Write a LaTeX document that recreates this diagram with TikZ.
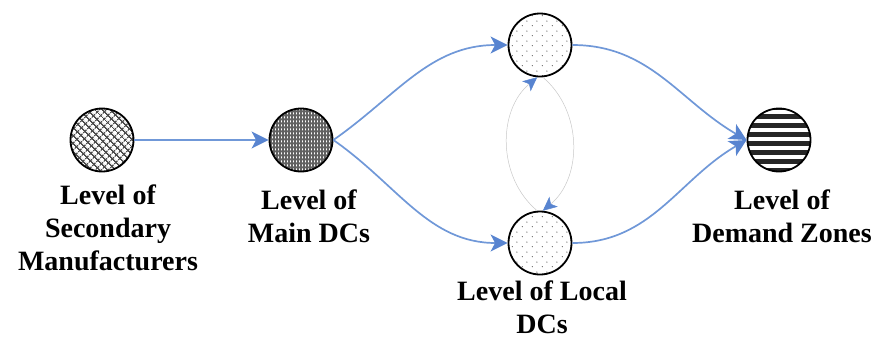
\documentclass[tikz,border=0pt]{standalone}
\usepackage{fontspec}
\setmainfont{Liberation Serif}
\usetikzlibrary{arrows.meta,patterns,patterns.meta}
\definecolor{edgeblue}{RGB}{112,152,216}
\definecolor{tipblue}{RGB}{88,132,208}
\definecolor{arcgrey}{RGB}{200,200,200}
\tikzdeclarepattern{name=diamesh, type=uncolored,
  bounding box={(0pt,0pt) and (5pt,5pt)}, tile size={(5pt,5pt)},
  tile transformation={rotate=45},
  code={\draw[line width=1.4pt] (-0.5pt,2.5pt) -- (5.5pt,2.5pt) (2.5pt,-0.5pt) -- (2.5pt,5.5pt);}}
\tikzdeclarepattern{name=vdashes, type=uncolored,
  bounding box={(0pt,0pt) and (3.4pt,4pt)}, tile size={(3.4pt,4pt)},
  code={\fill (1.2pt,0.8pt) rectangle (2.2pt,3.2pt);}}
\tikzdeclarepattern{name=sparsedots, type=uncolored,
  bounding box={(0pt,0pt) and (10pt,10pt)}, tile size={(10pt,10pt)},
  code={\fill (2.5pt,2.5pt) circle (0.65pt); \fill (7.5pt,7.5pt) circle (0.65pt);}}
\begin{document}
\begin{tikzpicture}[x=1pt,y=-1pt,
  level/.style={circle, draw=black, line width=1.8pt, minimum size=63pt, inner sep=0pt},
  stripes/.style={path picture={
     \foreach \k in {-4,...,3}{
       \fill[black!85] ([yshift=-\k*9pt-1pt]path picture bounding box.west) ++(-2pt,0) rectangle ++(70pt,-4.6pt);}}},
  lbl/.style={font=\fontsize{28}{33}\selectfont\bfseries, align=center, anchor=base, inner sep=0pt},
  flow/.style={draw=edgeblue, line width=1.7pt, -{Stealth[length=17pt,width=17pt,inset=4.5pt,color=tipblue]}},
  thinarc/.style={draw=arcgrey, line width=0.5pt, -{Stealth[length=14pt,width=13pt,inset=3.5pt,color=tipblue]}}]
\useasboundingbox (0,0) rectangle (876,338);
\node[level, pattern={diamesh}, pattern color=black!70] (sec) at (102,140) {};
\node[level, preaction={fill=black!62}, pattern={vdashes}, pattern color=white] (main) at (301,140) {};
\node[level, pattern={sparsedots}, pattern color=black!70] (tl) at (540,45) {};
\node[level, pattern={sparsedots}, pattern color=black!70] (bl) at (540,243) {};
\node[level, fill=white, stripes] (dem) at (779,140) {};
\draw[flow] (sec) -- (main);
\draw[flow] (main.east) to[out=35,in=180] (tl.west);
\draw[flow] (main.east) to[out=-35,in=180] (bl.west);
\draw[flow] (tl.east) to[out=0,in=150] (dem.west);
\draw[flow] (bl.east) to[out=0,in=-150] (dem.west);
\draw[thinarc] (bl.95) to[bend left=50] (tl.-95);
\draw[thinarc] (tl.-85) to[bend left=50] (bl.85);
\node[lbl] (tsec) at (108,270) {Level of\\Secondary\\Manufacturers};
\node[lbl] (tmain) at (309,242) {Level of\\Main DCs};
\node[lbl] (tloc) at (542,333) {Level of Local\\DCs};
\node[lbl] (tdem) at (782,242) {Level of\\Demand Zones};
\end{tikzpicture}
\end{document}
